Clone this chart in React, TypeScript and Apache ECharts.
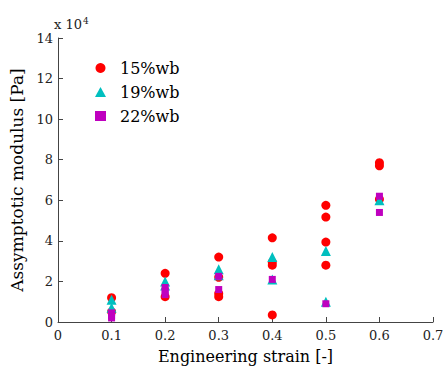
import React, { useEffect, useRef } from "react";
import * as echarts from "echarts";

const seriesNames = ["15%wb", "19%wb", "22%wb"];
const wb15: [number, number][] = [
  [0.1, 1.2], [0.1, 0.5],
  [0.2, 2.4], [0.2, 1.25],
  [0.3, 3.2], [0.3, 2.2], [0.3, 1.4], [0.3, 1.25],
  [0.4, 4.15], [0.4, 2.95], [0.4, 2.8], [0.4, 0.35],
  [0.5, 5.75], [0.5, 5.17], [0.5, 3.94], [0.5, 2.8],
  [0.6, 7.85], [0.6, 7.7], [0.6, 6.05],
];
const wb19: [number, number][] = [
  [0.1, 1.1], [0.1, 0.7],
  [0.2, 2.0], [0.2, 1.8],
  [0.3, 2.6], [0.3, 2.3],
  [0.4, 3.2], [0.4, 2.1],
  [0.5, 3.5], [0.5, 1.0],
  [0.6, 6.0],
];
const wb22: [number, number][] = [
  [0.1, 0.45], [0.1, 0.3], [0.1, 0.2],
  [0.2, 1.7], [0.2, 1.5], [0.2, 1.35],
  [0.3, 2.25], [0.3, 1.6],
  [0.4, 2.1],
  [0.5, 0.9],
  [0.6, 6.2], [0.6, 5.4],
];
const colors = ["#ff0000", "#00bfbf", "#bf00bf"];
const symbols = ["circle", "triangle", "rect"];
const symbolSizes = [9, 10, 7];

export default function App() {
  const ref = useRef<HTMLDivElement>(null);
  useEffect(() => {
    const chart = echarts.init(ref.current!, null, { renderer: "svg" });
    const font = "'DejaVu Serif', serif";
    const data = [wb15, wb19, wb22];
    chart.setOption({
      animation: false,
      textStyle: { fontFamily: font },
      grid: { left: 55, right: 15, top: 38, bottom: 48 },
      legend: {
        orient: "vertical",
        left: 90,
        top: 55,
        itemGap: 8,
        itemWidth: 11,
        itemHeight: 10,
        textStyle: { fontFamily: font, fontSize: 16, color: "#000", padding: [0, 0, 0, 9] },
        data: seriesNames.map((n, i) => ({ name: n, icon: symbols[i] })),
      },
      xAxis: {
        type: "value",
        min: 0,
        max: 0.7,
        interval: 0.1,
        name: "Engineering strain [-]",
        nameLocation: "middle",
        nameGap: 26,
        nameTextStyle: { fontFamily: font, fontSize: 16, color: "#000" },
        axisLine: { lineStyle: { color: "#444" } },
        axisTick: { inside: true, length: 5, lineStyle: { color: "#444" } },
        axisLabel: { fontFamily: font, fontSize: 13, color: "#222", margin: 7 },
        splitLine: { show: false },
      },
      yAxis: {
        type: "value",
        min: 0,
        max: 14,
        interval: 2,
        name: "Assymptotic modulus [Pa]",
        nameLocation: "middle",
        nameGap: 33,
        nameTextStyle: { fontFamily: font, fontSize: 17, color: "#000" },
        axisLine: { show: true, lineStyle: { color: "#444" } },
        axisTick: { show: true, inside: true, length: 5, lineStyle: { color: "#444" } },
        axisLabel: { fontFamily: font, fontSize: 13, color: "#222", margin: 5 },
        splitLine: { show: false },
      },
      graphic: [
        {
          type: "text",
          left: 54,
          top: 16,
          style: {
            text: "{a|x 10}{b|4}",
            rich: {
              a: { fontFamily: font, fontSize: 13, fill: "#222" },
              b: { fontFamily: font, fontSize: 9, fill: "#222", verticalAlign: "top", padding: [0, 0, 8, 1] },
            },
          },
        },
      ],
      series: data.map((d, i) => ({
        name: seriesNames[i],
        type: "scatter",
        symbol: symbols[i],
        symbolSize: symbolSizes[i],
        itemStyle: { color: colors[i], opacity: 1 },
        data: d,
      })),
    });
    return () => chart.dispose();
  }, []);
  return <div ref={ref} style={{ width: 448, height: 370, position: "absolute", left: 0, top: 0 }} />;
}
